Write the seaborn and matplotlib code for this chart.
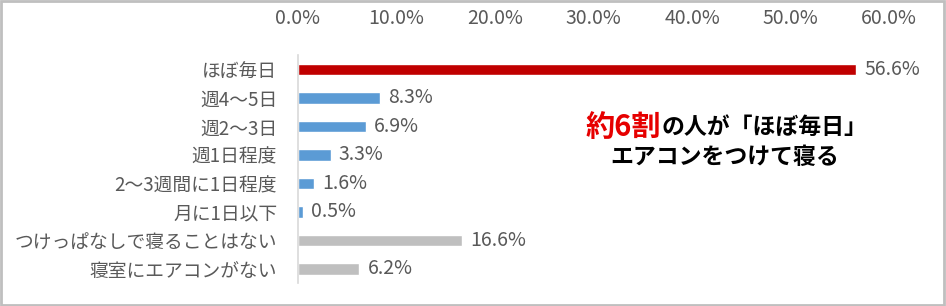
import matplotlib
matplotlib.use("Agg")
import matplotlib.pyplot as plt
import seaborn as sns
from matplotlib.patches import Rectangle
from matplotlib.ticker import PercentFormatter

# data
categories = ["ほぼ毎日", "週4～5日", "週2～3日", "週1日程度",
              "2～3週間に1日程度", "月に1日以下",
              "つけっぱなしで寝ることはない", "寝室にエアコンがない"]
values = [56.6, 8.3, 6.9, 3.3, 1.6, 0.5, 16.6, 6.2]
bar_colors = ["#C00000", "#5B9BD5", "#5B9BD5", "#5B9BD5",
              "#5B9BD5", "#5B9BD5", "#BFBFBF", "#BFBFBF"]
xticks = [0, 10, 20, 30, 40, 50, 60]

sns.set_style("white")
plt.rcParams['font.family'] = ['Noto Sans CJK JP', 'DejaVu Sans']

text_gray = "#595959"

fig = plt.figure(figsize=(9.46, 3.06), dpi=100)
ax = fig.add_axes([0.315, 0.075, 0.625, 0.745])

sns.barplot(x=values, y=categories, hue=categories, palette=bar_colors,
            legend=False, orient="h", width=0.4, saturation=1, ax=ax)

ax.set_xlim(0, 60)
ax.set_xticks(xticks)
ax.xaxis.set_major_formatter(PercentFormatter(decimals=1))
ax.xaxis.tick_top()
ax.tick_params(axis="x", length=0, pad=19, labelsize=14, labelcolor=text_gray)
ax.tick_params(axis="y", length=0, pad=15, labelsize=13.5, labelcolor=text_gray)
ax.set_xlabel("")
ax.set_ylabel("")

for side in ["top", "right", "bottom"]:
    ax.spines[side].set_visible(False)
ax.spines["left"].set_color("#D9D9D9")
ax.spines["left"].set_linewidth(1.2)

for cont in ax.containers:
    ax.bar_label(cont, fmt="%.1f%%", padding=6, fontsize=14, color=text_gray)

# callout text
fig.text(0.699, 0.585, "約6割", ha="right", va="center", fontsize=21,
         fontweight="bold", color="#E60000")
fig.text(0.699, 0.585, "の人が「ほぼ毎日」", ha="left", va="center",
         fontsize=16.5, fontweight="bold", color="#000000")
fig.text(0.766, 0.484, "エアコンをつけて寝る", ha="center", va="center",
         fontsize=16.5, fontweight="bold", color="#000000")

# outer frame
fig.add_artist(Rectangle((0.001, 0.002), 0.997, 0.995, transform=fig.transFigure,
                         fill=False, edgecolor="#BFBFBF", linewidth=2))

fig.savefig("out.png", dpi=100)
